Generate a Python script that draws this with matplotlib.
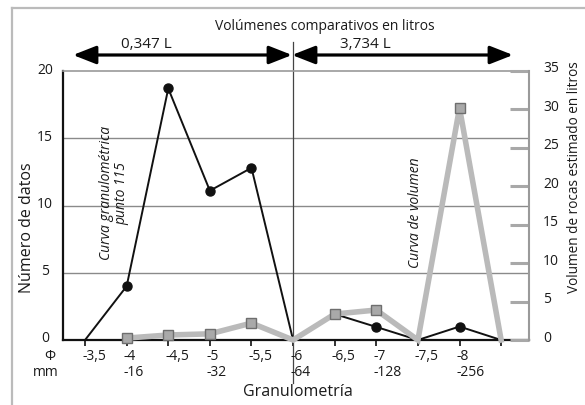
import matplotlib
matplotlib.use("Agg")
import matplotlib.pyplot as plt
from matplotlib.patches import FancyArrowPatch
from matplotlib.lines import Line2D
import matplotlib.transforms as mtransforms

plt.rcParams['font.family'] = ['Open Sans', 'DejaVu Sans']

# ---- data ----
phi_labels = ["-3,5", "-4", "-4,5", "-5", "-5,5", "-6", "-6,5", "-7", "-7,5", "-8", ""]
mm_labels = ["", "-16", "", "-32", "", "-64", "", "-128", "", "-256", ""]
n_datos = [0, 4, 18.7, 11.1, 12.8, 0, 1.93, 0.97, 0, 1, 0]
volumen = [None, 0.25, 0.65, 0.8, 2.2, 0, 3.38, 3.9, 0, 30.2, 0]
left_ticks = [0, 5, 10, 15, 20]
right_ticks = [0, 5, 10, 15, 20, 25, 30, 35]

W, H = 585, 405
fig = plt.figure(figsize=(W / 100, H / 100), dpi=100)
fig.patch.set_facecolor("white")
TXT = "#1a1a1a"

def fx(px):
    return px / W

def fy(py):
    return 1 - py / H

# outer frame (top and left edges)
fig.add_artist(Line2D([fx(12), fx(12)], [fy(8), fy(405)], color="#bbbbbb", lw=1.6))
fig.add_artist(Line2D([fx(12), fx(585)], [fy(8), fy(8)], color="#bbbbbb", lw=1.6))

ax = fig.add_axes([fx(63), fy(340), fx(529) - fx(63), fy(71) - fy(340)])
xs = list(range(len(phi_labels)))
ax.set_xlim(-0.53, 10.67)
ax.set_ylim(0, 20)

for v in [5, 10, 15]:
    ax.axhline(v, color="#8a8a8a", lw=1.0, zorder=1)

ax.spines["top"].set_color("#9a9a9a")
ax.spines["top"].set_linewidth(1.2)
ax.spines["right"].set_visible(False)
ax.spines["left"].set_color("#111111")
ax.spines["left"].set_linewidth(1.6)
ax.spines["bottom"].set_color("#111111")
ax.spines["bottom"].set_linewidth(1.6)

ax.set_yticks(left_ticks)
ax.set_yticklabels([str(t) for t in left_ticks])
ax.tick_params(axis="y", length=0, pad=13, labelsize=10, labelcolor=TXT)
for lab in ax.get_yticklabels():
    lab.set_horizontalalignment("center")
    lab.set_transform(lab.get_transform() + mtransforms.ScaledTranslation(0, 3 / 100, fig.dpi_scale_trans))

ax.set_xticks(xs)
ax.set_xticklabels([])
ax.tick_params(axis="x", direction="out", length=4, width=1.2, color="#111111")

tr = mtransforms.blended_transform_factory(ax.transData, fig.transFigure)
off = mtransforms.ScaledTranslation(-3 / 100, 0, fig.dpi_scale_trans)
for i, (p, m) in enumerate(zip(phi_labels, mm_labels)):
    if p:
        ax.text(i, fy(357), p, transform=tr + off, ha="left", va="center",
                fontsize=10, color=TXT)
    if m:
        ax.text(i, fy(373), m, transform=tr + off, ha="left", va="center",
                fontsize=10, color=TXT)
fig.text(fx(50), fy(357), "Φ", ha="center", va="center", fontsize=10, color=TXT)
fig.text(fx(46), fy(373), "mm", ha="center", va="center", fontsize=10, color=TXT)

fig.text(fx(298), fy(392), "Granulometría", ha="center", va="center", fontsize=11.5, color=TXT)
fig.text(fx(27), fy(228), "Número de datos", ha="center", va="center", rotation=90,
         fontsize=11.5, color=TXT)

ax.axvline(5, ymin=(340 - 383) / 269, ymax=(340 - 42) / 269, color="#444444", lw=0.9,
           clip_on=False, zorder=2)

# right axis
ax2 = ax.twinx()
ax2.set_ylim(0, 35)
for s in ["top", "left", "bottom"]:
    ax2.spines[s].set_visible(False)
ax2.spines["right"].set_color("#9a9a9a")
ax2.spines["right"].set_linewidth(1.5)
ax2.set_yticks(right_ticks)
ax2.set_yticklabels([str(t) for t in right_ticks])
ax2.tick_params(axis="y", direction="in", length=13.5, width=2.2, color="#a8a8a8",
                pad=10, labelsize=10, labelcolor=TXT)
for lab in ax2.get_yticklabels():
    lab.set_transform(lab.get_transform() + mtransforms.ScaledTranslation(0, 4 / 100, fig.dpi_scale_trans))
fig.text(fx(575), fy(177), "Volumen de rocas estimado en litros", ha="center", va="center",
         rotation=90, fontsize=9.8, color=TXT)

# black series (drawn below the grey one)
ax.set_zorder(ax2.get_zorder() - 1)
ax2.patch.set_visible(False)
black_marks = [i for i, v in enumerate(n_datos) if v != 0]
ax.plot(xs, n_datos, color="#111111", lw=1.4, marker="o", markersize=6.5,
        markevery=black_marks, markerfacecolor="#111111", markeredgecolor="#111111",
        zorder=4, clip_on=False)

vx = [x for x, v in zip(xs, volumen) if v is not None]
vy = [v for v in volumen if v is not None]
grey_marks = [i for i, v in enumerate(vy) if v != 0]
ax2.plot(vx, vy, color="#bababa", lw=4, solid_joinstyle="miter", zorder=3, clip_on=False,
         marker="s", markersize=7.5, markevery=grey_marks, markerfacecolor="#a9a9a9",
         markeredgecolor="#6e6e6e", markeredgewidth=1.0)

# rotated annotations
ax2.text(0.70, 10.9 * 35 / 20, "Curva granulométrica\npunto 115", rotation=90, ha="center",
         va="center", fontsize=10, style="italic", color=TXT, linespacing=1.0)
ax2.text(7.95, 9.5 * 35 / 20, "Curva de volumen", rotation=90, ha="center", va="center",
         fontsize=10, style="italic", color=TXT)

# top title and arrows
fig.text(fx(325), fy(27), "Volúmenes comparativos en litros", ha="center", va="center",
         fontsize=10, color=TXT)
for x0, x1, lab, lx in [(73, 292, "0,347 L", 146), (292, 513, "3,734 L", 365)]:
    arr = FancyArrowPatch((fx(x0), fy(55)), (fx(x1), fy(55)), transform=fig.transFigure,
                          arrowstyle="<|-|>,head_length=14,head_width=5.5", mutation_scale=1,
                          color="#000000", lw=2.3, shrinkA=0, shrinkB=0)
    fig.add_artist(arr)
    fig.text(fx(lx), fy(45), lab, ha="center", va="center", fontsize=11, color=TXT)

fig.savefig("out.png", dpi=100, facecolor="white")
